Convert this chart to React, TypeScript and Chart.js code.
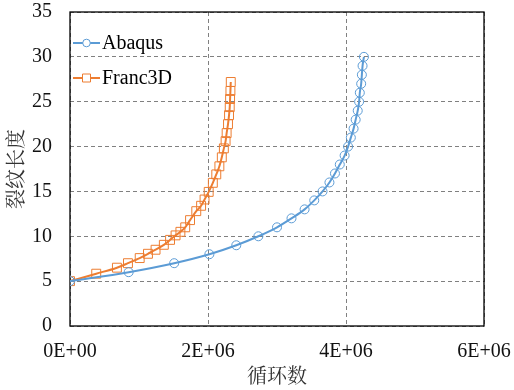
import React, { useEffect, useRef } from "react";
import { Chart, registerables } from "chart.js";

Chart.register(...registerables);

const seriesNames = ["Abaqus", "Franc3D"];

const abaqusCycles = [0, 0.85e6, 1.51e6, 2.02e6, 2.41e6, 2.73e6, 3.0e6, 3.21e6, 3.4e6, 3.54e6, 3.66e6, 3.76e6, 3.84e6, 3.91e6, 3.98e6, 4.03e6, 4.07e6, 4.11e6, 4.14e6, 4.17e6, 4.19e6, 4.2e6, 4.22e6, 4.23e6, 4.24e6, 4.26e6];
const abaqusLength = [5, 6, 7, 8, 9, 10, 11, 12, 13, 14, 15, 16, 17, 18, 19, 20, 21, 22, 23, 24, 25, 26, 27, 28, 29, 30];

const francCycles = [0, 0.38e6, 0.68e6, 0.84e6, 1.01e6, 1.13e6, 1.24e6, 1.36e6, 1.45e6, 1.53e6, 1.6e6, 1.67e6, 1.74e6, 1.83e6, 1.9e6, 1.95e6, 2.01e6, 2.07e6, 2.12e6, 2.165e6, 2.2e6, 2.23e6, 2.255e6, 2.27e6, 2.29e6, 2.305e6, 2.315e6, 2.32e6, 2.325e6, 2.33e6];
const francLength = [5, 5.83, 6.5, 7.0, 7.57, 8.05, 8.5, 9.05, 9.6, 10.1, 10.5, 11.0, 11.8, 12.8, 13.4, 14.1, 14.95, 15.96, 16.9, 17.8, 18.8, 19.8, 20.6, 21.5, 22.5, 23.5, 24.4, 25.3, 26.2, 27.2];

const xTitle = "循环数";
const yTitle = "裂纹长度";
const xMin = 0, xMax = 6e6, xStep = 2e6;
const yMin = 0, yMax = 35, yStep = 5;

const BLUE = "#5B9BD5";
const ORANGE = "#ED7D31";
const SERIF = "\"Liberation Serif\"";
const CJK = "\"Noto Serif CJK SC\"";

const framePlugin = {
  id: "frame",
  beforeDatasetsDraw(chart: any) {
    const { ctx, chartArea: a } = chart;
    ctx.save();
    ctx.strokeStyle = "#000";
    ctx.lineWidth = 1.3;
    ctx.setLineDash([]);
    ctx.strokeRect(a.left, a.top, a.right - a.left, a.bottom - a.top);
    ctx.restore();
  },
};

const legendPlugin = {
  id: "insideLegend",
  afterDraw(chart: any) {
    const { ctx } = chart;
    const rows = [43, 78];
    ctx.save();
    chart.data.datasets.forEach((ds: any, i: number) => {
      const y = rows[i];
      const x0 = 73, x1 = 100, xm = 86.5;
      ctx.strokeStyle = ds.borderColor;
      ctx.lineWidth = 2;
      ctx.setLineDash([]);
      ctx.beginPath();
      ctx.moveTo(x0, y);
      ctx.lineTo(x1, y);
      ctx.stroke();
      ctx.lineWidth = 1;
      ctx.fillStyle = "#fff";
      ctx.beginPath();
      if (ds.pointStyle === "rect") {
        ctx.rect(xm - 4, y - 4, 8, 8);
      } else {
        ctx.arc(xm, y, 3.8, 0, Math.PI * 2);
      }
      ctx.fill();
      ctx.stroke();
      ctx.fillStyle = "#000";
      ctx.font = `20px ${SERIF}`;
      ctx.textBaseline = "middle";
      ctx.textAlign = "left";
      ctx.fillText(ds.label, 102, y + 1);
    });
    ctx.restore();
  },
};

export default function App() {
  const ref = useRef<HTMLCanvasElement | null>(null);

  useEffect(() => {
    if (!ref.current) return;
    const chart = new Chart(ref.current, {
      type: "scatter",
      data: {
        datasets: [
          {
            label: seriesNames[0],
            data: abaqusCycles.map((x, i) => ({ x, y: abaqusLength[i] })),
            showLine: true,
            borderColor: BLUE,
            borderWidth: 2,
            pointStyle: "circle",
            pointRadius: 4.5,
            pointBorderWidth: 1,
            pointBorderColor: BLUE,
            pointBackgroundColor: "rgba(255,255,255,0)",
            cubicInterpolationMode: "monotone",
          },
          {
            label: seriesNames[1],
            data: francCycles.map((x, i) => ({ x, y: francLength[i] })),
            showLine: true,
            borderColor: ORANGE,
            borderWidth: 2,
            pointStyle: "rect",
            pointRadius: 6.3,
            pointBorderWidth: 1,
            pointBorderColor: ORANGE,
            pointBackgroundColor: "rgba(255,255,255,0)",
            cubicInterpolationMode: "monotone",
          },
        ],
      },
      options: {
        responsive: false,
        animation: false,
        font: { family: SERIF },
        layout: { padding: { left: 0, right: 30, top: 12, bottom: 0 } },
        plugins: {
          legend: { display: false },
          tooltip: { enabled: false },
        },
        scales: {
          x: {
            type: "linear",
            min: xMin,
            max: xMax,
            border: { display: false, dash: [4, 3] },
            grid: {
              color: "#808080",
              lineWidth: 1,
              drawTicks: false,
              tickLength: 0,
            },
            ticks: {
              stepSize: xStep,
              padding: 14,
              maxRotation: 0,
              color: "#111",
              font: { family: SERIF, size: 20 },
              callback: (v: any) => (v === 0 ? "0E+00" : `${v / 1e6}E+06`),
            },
            title: {
              display: true,
              text: xTitle,
              color: "#333",
              font: { family: CJK, size: 20 },
              padding: { top: 0, bottom: 3 },
            },
            afterFit: (s: any) => {
              s.height = 64;
              s.paddingLeft = 0;
              s.paddingRight = 0;
            },
          } as any,
          y: {
            type: "linear",
            min: yMin,
            max: yMax,
            border: { display: false, dash: [4, 3] },
            grid: {
              color: "#808080",
              lineWidth: 1,
              drawTicks: false,
              tickLength: 0,
            },
            ticks: {
              stepSize: yStep,
              padding: 18,
              color: "#111",
              font: { family: SERIF, size: 20 },
            },
            title: {
              display: true,
              text: yTitle,
              color: "#333",
              font: { family: CJK, size: 20 },
              padding: { top: 3, bottom: 0 },
            },
            afterFit: (s: any) => {
              s.width = 70;
              s.paddingTop = 0;
              s.paddingBottom = 0;
            },
          } as any,
        },
      },
      plugins: [framePlugin, legendPlugin],
    } as any);
    let alive = true;
    const redraw = () => {
      if (alive) chart.update();
    };
    const fonts: any = (document as any).fonts;
    if (fonts && fonts.load) {
      fonts.load("20px \"Liberation Serif\"", "0E+06Abaqus").then(redraw, () => null);
      fonts.load("normal 20px \"Liberation Serif\"").then(redraw, () => null);
      fonts.load("20px \"Noto Serif CJK SC\"", xTitle + yTitle).then(redraw, () => null);
      if (fonts.ready) fonts.ready.then(redraw);
    }
    const t0 = setTimeout(redraw, 50);
    const t1 = setTimeout(redraw, 200);
    const t2 = setTimeout(redraw, 600);
    return () => {
      alive = false;
      clearTimeout(t0);
      clearTimeout(t1);
      clearTimeout(t2);
      chart.destroy();
    };
  }, []);

  return (
    <div style={{ position: "fixed", left: 0, top: 0, width: 514, height: 390, background: "#fff" }}>
      <span style={{ position: "absolute", left: -9999, top: 0, fontFamily: "\"Liberation Serif\"", fontSize: 20 }}>0E+06 Abaqus Franc3D</span>
      <canvas ref={ref} width={514} height={390} style={{ display: "block" }} />
    </div>
  );
}
